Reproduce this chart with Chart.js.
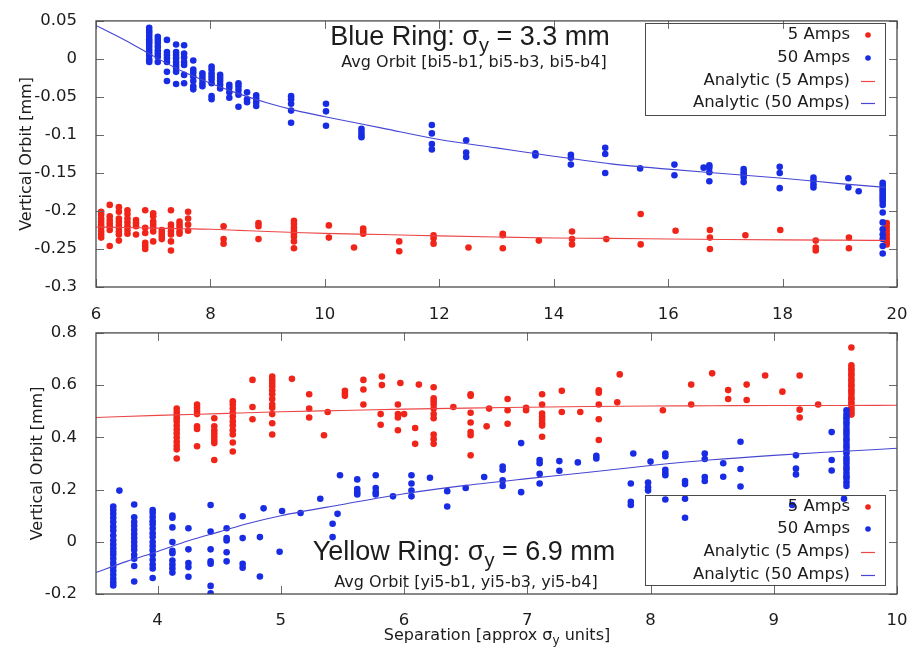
<!DOCTYPE html>
<html><head><meta charset="utf-8">
<script src="https://cdn.jsdelivr.net/npm/chart.js@4.4.0/dist/chart.umd.min.js"></script>
<style>
html,body{margin:0;padding:0;background:#fff;}
#wrap{position:relative;width:924px;height:648px;overflow:hidden;background:#fff;}
canvas{position:absolute;left:0;}
#c1{top:0;width:924px;height:320px;}
#c2{top:312px;width:924px;height:336px;}
</style></head><body>
<div id="wrap"><canvas id="c1" width="924" height="320"></canvas><canvas id="c2" width="924" height="336"></canvas></div>
<script>
// ---------- DATA ----------
// Tick labels
const topXTicks = [6, 8, 10, 12, 14, 16, 18, 20];
const topYTicks = [0.05, 0, -0.05, -0.1, -0.15, -0.2, -0.25, -0.3];
const botXTicks = [4, 5, 6, 7, 8, 9, 10];
const botYTicks = [0.8, 0.6, 0.4, 0.2, 0, -0.2];

// Series labels
const seriesLabels = ['5 Amps', '50 Amps', 'Analytic (5 Amps)', 'Analytic (50 Amps)'];

// Blue ring, 5 Amps: [separation, [orbit values...]]
const blue5Amps = [
  [6.09, [-0.201, -0.205, -0.210, -0.214, -0.218, -0.222, -0.227, -0.231, -0.235]],
  [6.24, [-0.192, -0.207, -0.212, -0.216, -0.220, -0.225, -0.246]],
  [6.40, [-0.195, -0.201, -0.210, -0.214, -0.218, -0.222, -0.227, -0.231, -0.239]],
  [6.55, [-0.199, -0.204, -0.210, -0.215, -0.220, -0.225, -0.230]],
  [6.70, [-0.212, -0.216, -0.220, -0.231]],
  [6.86, [-0.199, -0.222, -0.229, -0.242, -0.246, -0.250]],
  [7.00, [-0.203, -0.207, -0.214, -0.218, -0.222, -0.227, -0.240]],
  [7.15, [-0.225, -0.229, -0.233, -0.237]],
  [7.31, [-0.199, -0.218, -0.222, -0.227, -0.231, -0.240, -0.252]],
  [7.46, [-0.214, -0.218, -0.222, -0.227, -0.230]],
  [7.61, [-0.201, -0.210, -0.218, -0.226]],
  [8.23, [-0.220, -0.237, -0.243]],
  [8.84, [-0.216, -0.220, -0.237]],
  [9.46, [-0.213, -0.217, -0.222, -0.226, -0.230, -0.234, -0.240, -0.249]],
  [10.07, [-0.219, -0.235]],
  [10.51, [-0.248]],
  [10.67, [-0.223, -0.227, -0.230]],
  [11.30, [-0.240, -0.253]],
  [11.90, [-0.232, -0.236, -0.243]],
  [12.51, [-0.248]],
  [13.11, [-0.230, -0.232, -0.249]],
  [13.74, [-0.239]],
  [14.32, [-0.227, -0.237, -0.244]],
  [14.92, [-0.237]],
  [15.52, [-0.204, -0.244]],
  [16.13, [-0.226]],
  [16.73, [-0.225, -0.235, -0.250]],
  [17.35, [-0.232]],
  [17.96, [-0.225]],
  [18.58, [-0.239, -0.248, -0.252]],
  [19.16, [-0.235, -0.249]],
  [19.82, [-0.216, -0.221, -0.226, -0.231, -0.236, -0.240, -0.244]]
];

// Blue ring, 50 Amps
const blue50Amps = [
  [6.93, [0.041, 0.037, 0.034, 0.030, 0.026, 0.023, 0.020, 0.016, 0.012, 0.008, 0.004, -0.001, -0.004]],
  [7.08, [0.029, 0.025, 0.021, 0.016, 0.011, 0.007, 0.003, -0.004]],
  [7.24, [0.025, 0.009, 0.005, 0.001, -0.004, -0.017, -0.029]],
  [7.40, [0.019, 0.009, 0.005, 0.001, -0.004, -0.008, -0.012, -0.017, -0.033]],
  [7.54, [0.018, 0.007, 0.002, -0.004, -0.008, -0.021, -0.032]],
  [7.70, [-0.002, -0.014, -0.018, -0.023, -0.029, -0.036, -0.040]],
  [7.86, [-0.019, -0.023, -0.027, -0.032, -0.036]],
  [8.02, [-0.010, -0.014, -0.019, -0.023, -0.027, -0.032, -0.049, -0.053]],
  [8.17, [-0.021, -0.025, -0.029, -0.034, -0.039]],
  [8.33, [-0.034, -0.038, -0.044, -0.051]],
  [8.49, [-0.032, -0.036, -0.041, -0.047, -0.063]],
  [8.64, [-0.044, -0.053, -0.057]],
  [8.80, [-0.048, -0.052, -0.057, -0.062]],
  [9.41, [-0.049, -0.053, -0.059, -0.068, -0.084]],
  [10.02, [-0.059, -0.069, -0.088]],
  [10.64, [-0.092, -0.096, -0.100, -0.103]],
  [11.87, [-0.087, -0.098, -0.112, -0.119]],
  [12.47, [-0.107, -0.123, -0.129]],
  [13.68, [-0.124, -0.127]],
  [14.30, [-0.126, -0.130, -0.139]],
  [14.90, [-0.117, -0.125, -0.150]],
  [15.51, [-0.144]],
  [16.11, [-0.139, -0.153]],
  [16.62, [-0.143]],
  [16.72, [-0.140, -0.143, -0.149, -0.161]],
  [17.32, [-0.145, -0.149, -0.152, -0.156, -0.162]],
  [17.95, [-0.142, -0.150, -0.170]],
  [18.54, [-0.156, -0.160, -0.165, -0.169]],
  [19.15, [-0.157, -0.169]],
  [19.33, [-0.174]],
  [19.75, [-0.163, -0.166, -0.170, -0.173, -0.176, -0.179, -0.182, -0.185, -0.188, -0.192, -0.202, -0.215, -0.224, -0.231, -0.237, -0.246, -0.256]]
];

// Blue ring analytic curves
const blueFitX = [6, 6.5, 7, 7.5, 8, 8.5, 9, 9.5, 10, 11, 12, 13, 14, 15, 16, 17, 18, 19, 19.8];
const blueFit5Y = [-0.221, -0.2218, -0.2225, -0.2233, -0.224, -0.2255, -0.227, -0.2283, -0.2295, -0.231, -0.2328, -0.2343, -0.2355, -0.236, -0.2368, -0.2375, -0.238, -0.2384, -0.2387];
const blueFit50Y = [0.044, 0.025, 0.004, -0.016, -0.032, -0.046, -0.058, -0.068, -0.076, -0.091, -0.106, -0.117, -0.128, -0.138, -0.145, -0.151, -0.157, -0.164, -0.169];

// Yellow ring, 5 Amps
const yellow5Amps = [
  [4.155, [0.510, 0.497, 0.485, 0.473, 0.461, 0.445, 0.430, 0.415, 0.399, 0.383, 0.368, 0.354, 0.319]],
  [4.32, [0.526, 0.513, 0.501, 0.489, 0.442, 0.432, 0.366]],
  [4.46, [0.473, 0.442, 0.427, 0.415, 0.403, 0.390, 0.378, 0.313]],
  [4.61, [0.538, 0.526, 0.510, 0.494, 0.479, 0.461, 0.445, 0.427, 0.411, 0.380, 0.346]],
  [4.77, [0.620, 0.516, 0.469]],
  [4.93, [0.633, 0.620, 0.608, 0.596, 0.580, 0.565, 0.547, 0.526, 0.513, 0.489, 0.454, 0.411]],
  [5.09, [0.624]],
  [5.23, [0.565, 0.510, 0.476]],
  [5.35, [0.408]],
  [5.38, [0.497]],
  [5.52, [0.578, 0.568, 0.559]],
  [5.67, [0.620, 0.583, 0.526]],
  [5.81, [0.489, 0.448]],
  [5.82, [0.633, 0.600]],
  [5.95, [0.526, 0.489, 0.476, 0.427]],
  [5.97, [0.608]],
  [6.00, [0.489]],
  [6.09, [0.436, 0.375]],
  [6.12, [0.602]],
  [6.24, [0.592, 0.550, 0.538, 0.526, 0.510, 0.489, 0.473, 0.411, 0.393, 0.375]],
  [6.40, [0.516]],
  [6.54, [0.565, 0.559, 0.494, 0.457, 0.420, 0.408, 0.331]],
  [6.67, [0.442]],
  [6.69, [0.510]],
  [6.84, [0.547, 0.504, 0.452]],
  [6.99, [0.513, 0.504]],
  [7.12, [0.565, 0.526, 0.491, 0.479, 0.467, 0.454, 0.445, 0.402]],
  [7.28, [0.578, 0.497]],
  [7.43, [0.497]],
  [7.58, [0.580, 0.571, 0.526, 0.469, 0.390]],
  [7.73, [0.534]],
  [7.75, [0.641]],
  [8.10, [0.504]],
  [8.33, [0.602, 0.526]],
  [8.50, [0.645]],
  [8.63, [0.581, 0.547]],
  [8.78, [0.602, 0.543]],
  [8.93, [0.637]],
  [9.07, [0.575]],
  [9.21, [0.637, 0.506, 0.476]],
  [9.36, [0.526]],
  [9.63, [0.744, 0.676, 0.664, 0.656, 0.644, 0.636, 0.623, 0.616, 0.604, 0.596, 0.583, 0.576, 0.566, 0.553, 0.546, 0.534, 0.526, 0.513, 0.505, 0.495, 0.487]]
];

// Yellow ring, 50 Amps
const yellow50Amps = [
  [3.64, [0.135, 0.122, 0.107, 0.092, 0.076, 0.058, 0.043, 0.024, 0.006, -0.010, -0.025, -0.038, -0.050, -0.065, -0.081, -0.097, -0.111, -0.126, -0.142, -0.155, -0.167]],
  [3.69, [0.196]],
  [3.81, [0.143, 0.094, 0.076, 0.061, 0.046, 0.030, 0.014, -0.001, -0.016, -0.031, -0.050, -0.065, -0.093, -0.152]],
  [3.96, [0.122, 0.110, 0.095, 0.079, 0.067, 0.051, 0.033, 0.018, -0.001, -0.016, -0.032, -0.050, -0.069, -0.087, -0.102, -0.139]],
  [4.12, [0.100, 0.092, 0.055, -0.001, -0.035, -0.044, -0.072, -0.087, -0.102, -0.118]],
  [4.25, [0.052, -0.029, -0.081, -0.097, -0.134]],
  [4.43, [0.141, 0.039, -0.029, -0.075, -0.084, -0.169, -0.197]],
  [4.56, [0.052, 0.014, 0.005, -0.040, -0.075]],
  [4.69, [0.098, 0.014, -0.084, -0.099]],
  [4.83, [0.018, -0.133]],
  [4.86, [0.128]],
  [4.99, [-0.038]],
  [5.01, [0.118]],
  [5.16, [0.110]],
  [5.32, [0.165]],
  [5.42, [0.069, 0.018]],
  [5.46, [0.107]],
  [5.48, [0.255]],
  [5.62, [0.239, 0.202, 0.190, 0.181]],
  [5.77, [0.255, 0.206, 0.190, 0.181]],
  [5.91, [0.174]],
  [6.06, [0.255, 0.223, 0.196, 0.174]],
  [6.21, [0.245]],
  [6.35, [0.194, 0.135]],
  [6.50, [0.206]],
  [6.65, [0.248]],
  [6.80, [0.288, 0.276, 0.235, 0.214]],
  [6.95, [0.378, 0.190]],
  [7.10, [0.313, 0.301, 0.260, 0.223]],
  [7.26, [0.309, 0.272]],
  [7.41, [0.304]],
  [7.56, [0.329, 0.319]],
  [7.84, [0.223, 0.153, 0.141]],
  [7.86, [0.338]],
  [7.98, [0.227, 0.209, 0.196]],
  [8.00, [0.307]],
  [8.12, [0.338, 0.328, 0.276, 0.264, 0.255, 0.162]],
  [8.28, [0.233, 0.221, 0.165, 0.092]],
  [8.44, [0.338, 0.317, 0.248, 0.233]],
  [8.59, [0.301, 0.249]],
  [8.73, [0.383, 0.279, 0.212]],
  [9.15, [0.141]],
  [9.18, [0.331, 0.280, 0.258]],
  [9.47, [0.420, 0.313, 0.273]],
  [9.57, [0.165]],
  [9.59, [0.504, 0.489, 0.478, 0.470, 0.458, 0.447, 0.433, 0.421, 0.410, 0.396, 0.387, 0.373, 0.362, 0.349, 0.338, 0.322, 0.311, 0.300, 0.286, 0.277, 0.263, 0.251, 0.242, 0.228, 0.214]]
];

// Yellow ring analytic curves
const yellowFit5X = [3.5, 4, 4.5, 5, 5.5, 6, 6.5, 7, 7.5, 8, 8.5, 9, 9.5, 10];
const yellowFit5Y = [0.476, 0.484, 0.491, 0.498, 0.503, 0.508, 0.512, 0.515, 0.518, 0.520, 0.521, 0.522, 0.522, 0.523];
const yellowFit50X = [3.5, 3.75, 4, 4.25, 4.5, 4.75, 5, 5.5, 6, 6.5, 7, 7.5, 8, 8.5, 9, 9.5, 10];
const yellowFit50Y = [-0.118, -0.075, -0.037, 0.004, 0.038, 0.072, 0.100, 0.143, 0.184, 0.216, 0.242, 0.266, 0.292, 0.314, 0.331, 0.345, 0.358];

// ---------- STYLE ----------
const RED = 'rgb(240,36,24)';
const BLUE = 'rgb(24,44,228)';
const RED_LINE = 'rgb(236,70,70)';
const BLUE_LINE = 'rgb(70,70,210)';
const seriesColors = [RED, BLUE, RED_LINE, BLUE_LINE];
const seriesIsLine = [false, false, true, true];
const SMALL = "'DejaVu Sans', sans-serif";
const BIG = "'Liberation Sans', Arial, sans-serif";
const TXT = '#1c1c1c';

function columnsToPoints(cols) {
  const out = [];
  cols.forEach(([x, ys]) => ys.forEach(y => out.push({ x: x, y: y })));
  return out;
}
function zip(xs, ys) { return xs.map((x, i) => ({ x: x, y: ys[i] })); }

function drawParts(ctx, parts, x, y, align) {
  ctx.fillStyle = TXT; ctx.textBaseline = 'alphabetic'; ctx.textAlign = 'left';
  let w = 0;
  const ms = parts.map(p => { ctx.font = p.font; const m = ctx.measureText(p.t).width; w += m; return m; });
  let cx = align === 'center' ? x - w / 2 : (align === 'right' ? x - w : x);
  parts.forEach((p, i) => { ctx.font = p.font; ctx.fillText(p.t, cx, y + (p.dy || 0)); cx += ms[i]; });
}

const decoPlugin = {
  id: 'deco',
  afterDatasetsDraw(chart, args, o) {
    const ctx = chart.ctx, a = chart.chartArea;
    const xs = chart.scales.x, ys = chart.scales.y;
    ctx.save();
    // inward tick marks on all four sides
    ctx.strokeStyle = '#6a6a6a'; ctx.lineWidth = 1;
    ctx.beginPath();
    xs.ticks.forEach(t => {
      const px = Math.round(xs.getPixelForValue(t.value)) + 0.5;
      ctx.moveTo(px, a.bottom); ctx.lineTo(px, a.bottom - 8);
      ctx.moveTo(px, a.top); ctx.lineTo(px, a.top + 8);
    });
    ys.ticks.forEach(t => {
      const py = Math.round(ys.getPixelForValue(t.value)) + 0.5;
      ctx.moveTo(a.left, py); ctx.lineTo(a.left + 8, py);
      ctx.moveTo(a.right, py); ctx.lineTo(a.right - 8, py);
    });
    ctx.stroke();
    // frame
    ctx.strokeStyle = '#4a4a4a'; ctx.lineWidth = 1.3;
    ctx.strokeRect(a.left, a.top, a.right - a.left, a.bottom - a.top);
    // titles
    o.texts.forEach(t => drawParts(ctx, t.parts, t.x, t.y, t.align));
    // legend
    const L = o.legend;
    ctx.strokeStyle = '#4a4a4a'; ctx.lineWidth = 1;
    ctx.strokeRect(L.box[0] + 0.5, L.box[1] + 0.5, L.box[2] - L.box[0], L.box[3] - L.box[1]);
    chart.data.datasets.forEach((ds, i) => {
      const yy = L.rows[i];
      ctx.font = '16.5px ' + SMALL; ctx.textAlign = 'right'; ctx.textBaseline = 'middle';
      ctx.fillStyle = TXT;
      ctx.fillText(ds.label, L.textRight, yy);
      if (seriesIsLine[i]) {
        ctx.strokeStyle = seriesColors[i]; ctx.lineWidth = 1.2;
        ctx.beginPath(); ctx.moveTo(L.mark - 7, Math.round(yy) + 0.5); ctx.lineTo(L.mark + 7, Math.round(yy) + 0.5); ctx.stroke();
      } else {
        ctx.fillStyle = seriesColors[i];
        ctx.beginPath(); ctx.arc(L.mark, yy, 2.8, 0, Math.PI * 2); ctx.fill();
      }
    });
    ctx.restore();
  }
};

function makeChart(id, c) {
  return new Chart(document.getElementById(id), {
    type: 'scatter',
    data: {
      datasets: [
        { label: seriesLabels[0], data: c.p5, backgroundColor: RED, borderWidth: 0, pointRadius: 3.3, pointHoverRadius: 3.3, order: 3, clip: 0 },
        { label: seriesLabels[1], data: c.p50, backgroundColor: BLUE, borderWidth: 0, pointRadius: 3.3, pointHoverRadius: 3.3, order: 2, clip: 0 },
        { label: seriesLabels[2], data: c.f5, showLine: true, borderColor: RED_LINE, backgroundColor: RED_LINE, borderWidth: 1.1, pointRadius: 0, cubicInterpolationMode: 'monotone', order: 1, clip: 0 },
        { label: seriesLabels[3], data: c.f50, showLine: true, borderColor: BLUE_LINE, backgroundColor: BLUE_LINE, borderWidth: 1.1, pointRadius: 0, cubicInterpolationMode: 'monotone', order: 0, clip: 0 }
      ]
    },
    options: {
      responsive: false, animation: false, devicePixelRatio: 1, events: [],
      layout: { padding: { left: 0, right: 27, top: c.padTop, bottom: 0 }, autoPadding: false },
      plugins: { legend: { display: false }, tooltip: { enabled: false }, deco: c.deco },
      scales: {
        x: {
          type: 'linear', min: c.xMin, max: c.xMax,
          grid: { display: false }, border: { display: false },
          afterBuildTicks: s => { s.ticks = c.xTicks.map(v => ({ value: v })); },
          afterFit: s => { s.height = c.xH; },
          ticks: { autoSkip: false, maxRotation: 0, padding: c.xPad, color: TXT, font: { family: SMALL, size: 16.5 }, callback: v => String(v) }
        },
        y: {
          type: 'linear', min: c.yMin, max: c.yMax,
          grid: { display: false }, border: { display: false },
          afterBuildTicks: s => { s.ticks = c.yTicks.map(v => ({ value: v })); },
          afterFit: s => { s.width = 96; },
          ticks: { autoSkip: false, padding: 11, color: TXT, font: { family: SMALL, size: 16.5 }, callback: v => String(v) },
          title: { display: true, text: 'Vertical Orbit [mm]', color: TXT, font: { family: SMALL, size: 16 }, padding: { top: c.yTitlePad, bottom: 0 } }
        }
      }
    },
    plugins: [decoPlugin]
  });
}

// ---------- TOP: Blue ring ----------
makeChart('c1', {
  p5: columnsToPoints(blue5Amps), p50: columnsToPoints(blue50Amps),
  f5: zip(blueFitX, blueFit5Y), f50: zip(blueFitX, blueFit50Y),
  xMin: 6, xMax: 20, yMin: -0.3, yMax: 0.05, xTicks: topXTicks, yTicks: topYTicks,
  padTop: 15, xH: 33, xPad: 10, yTitlePad: 17,
  deco: {
    texts: [
      { x: 470, y: 45, align: 'center', parts: [
        { t: 'Blue Ring: σ', font: '27px ' + BIG },
        { t: 'y', font: '20px ' + BIG, dy: 7 },
        { t: ' = 3.3 mm', font: '27px ' + BIG }] },
      { x: 474, y: 67, align: 'center', parts: [{ t: 'Avg Orbit [bi5-b1, bi5-b3, bi5-b4]', font: '16px ' + SMALL }] }
    ],
    legend: { box: [645, 23, 885, 115], textRight: 850, mark: 868, rows: [35, 58, 81, 103] }
  }
});

// ---------- BOTTOM: Yellow ring ----------
makeChart('c2', {
  p5: columnsToPoints(yellow5Amps), p50: columnsToPoints(yellow50Amps),
  f5: zip(yellowFit5X, yellowFit5Y), f50: zip(yellowFit50X, yellowFit50Y),
  xMin: 3.5, xMax: 10, yMin: -0.2, yMax: 0.8, xTicks: botXTicks, yTicks: botYTicks,
  padTop: 11, xH: 54, xPad: 9, yTitlePad: 28,
  deco: {
    texts: [
      { x: 464, y: 248, align: 'center', parts: [
        { t: 'Yellow Ring: σ', font: '27px ' + BIG },
        { t: 'y', font: '20px ' + BIG, dy: 7 },
        { t: ' = 6.9 mm', font: '27px ' + BIG }] },
      { x: 466, y: 275, align: 'center', parts: [{ t: 'Avg Orbit [yi5-b1, yi5-b3, yi5-b4]', font: '16px ' + SMALL }] },
      { x: 497, y: 328, align: 'center', parts: [
        { t: 'Separation [approx σ', font: '16px ' + SMALL },
        { t: 'y', font: '12px ' + SMALL, dy: 4 },
        { t: ' units]', font: '16px ' + SMALL }] }
    ],
    legend: { box: [645, 183, 885, 273], textRight: 850, mark: 868, rows: [195, 217, 240, 263] }
  }
});
</script>
</body></html>
